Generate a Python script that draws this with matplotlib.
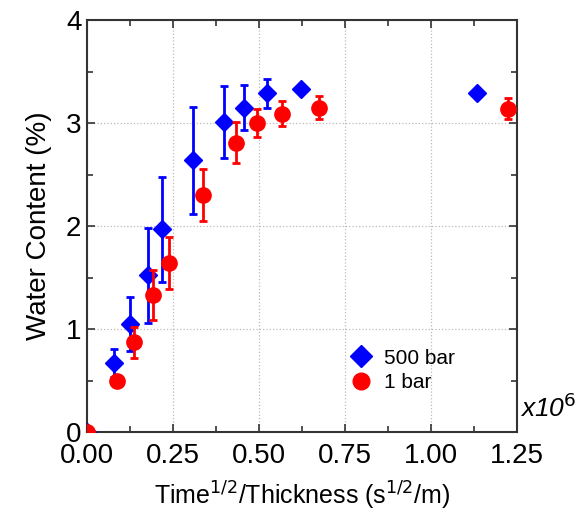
import matplotlib
matplotlib.use("Agg")
import matplotlib.pyplot as plt
from matplotlib.ticker import MultipleLocator
from matplotlib.lines import Line2D

plt.rcParams["font.family"] = ["Liberation Sans", "DejaVu Sans"]

# -----------------------------
# Data (x in units of 1e6 s^1/2/m)
# -----------------------------

x_500 = [0.0, 0.079, 0.125, 0.178, 0.219, 0.309, 0.398, 0.455, 0.522, 0.622, 1.133]
y_500 = [0.0, 0.67, 1.05, 1.52, 1.97, 2.64, 3.01, 3.15, 3.29, 3.33, 3.29]
e_500 = [0.0, 0.14, 0.26, 0.46, 0.51, 0.52, 0.35, 0.22, 0.14, 0.0, 0.0]

x_1 = [0.0, 0.086, 0.137, 0.193, 0.237, 0.336, 0.433, 0.493, 0.567, 0.675, 1.225]
y_1 = [0.0, 0.50, 0.87, 1.33, 1.64, 2.30, 2.81, 3.00, 3.09, 3.15, 3.14]
e_1 = [0.0, 0.0, 0.15, 0.24, 0.25, 0.25, 0.20, 0.14, 0.12, 0.11, 0.10]

blue = "#0000ff"
red = "#ff0000"

# -----------------------------
# Plot
# -----------------------------

fig = plt.figure(figsize=(5.78, 5.2), dpi=100)
ax = fig.add_axes([0.1505, 0.1692, 0.744, 0.7923])

ax.errorbar(x_500, y_500, yerr=e_500, fmt="D", color=blue, ms=9,
            elinewidth=2, capsize=3, capthick=2, zorder=3)
ax.errorbar(x_1, y_1, yerr=e_1, fmt="o", color=red, ms=11,
            elinewidth=2, capsize=3, capthick=2, zorder=4)

ax.set_xlim(0, 1.25)
ax.set_ylim(0, 4)
ax.xaxis.set_major_locator(MultipleLocator(0.25))
ax.xaxis.set_minor_locator(MultipleLocator(0.125))
ax.yaxis.set_major_locator(MultipleLocator(1))
ax.yaxis.set_minor_locator(MultipleLocator(0.5))
ax.xaxis.set_major_formatter(plt.FormatStrFormatter("%.2f"))

ax.tick_params(which="both", direction="in", top=True, right=True,
               width=1.2, color="#333333")
ax.tick_params(which="major", length=6, labelsize=20)
ax.tick_params(axis="x", which="major", pad=8)
ax.tick_params(axis="y", which="major", pad=4)
ax.tick_params(which="minor", length=4)

for s in ax.spines.values():
    s.set_linewidth(1.5)
    s.set_color("#333333")

ax.grid(True, which="major", linestyle=":", color="#bbbbbb", linewidth=0.9)
ax.set_axisbelow(True)

ax.set_xlabel("Time$^{1/2}$/Thickness (s$^{1/2}$/m)", fontsize=18, labelpad=8)
ax.set_ylabel("Water Content (%)", fontsize=20, labelpad=10)

ax.text(1.006, 0.025, "x10$^6$", transform=ax.transAxes, fontsize=19,
        style="italic", ha="left", va="bottom")

handles = [
    Line2D([], [], marker="D", color=blue, linestyle="none", ms=11),
    Line2D([], [], marker="o", color=red, linestyle="none", ms=12),
]
ax.legend(handles, ["500 bar", "1 bar"], loc="center left",
          bbox_to_anchor=(0.565, 0.15), frameon=False, fontsize=15,
          handletextpad=0.5, labelspacing=0.25, handlelength=1.2)

plt.savefig("out.png", dpi=100)
plt.close()
